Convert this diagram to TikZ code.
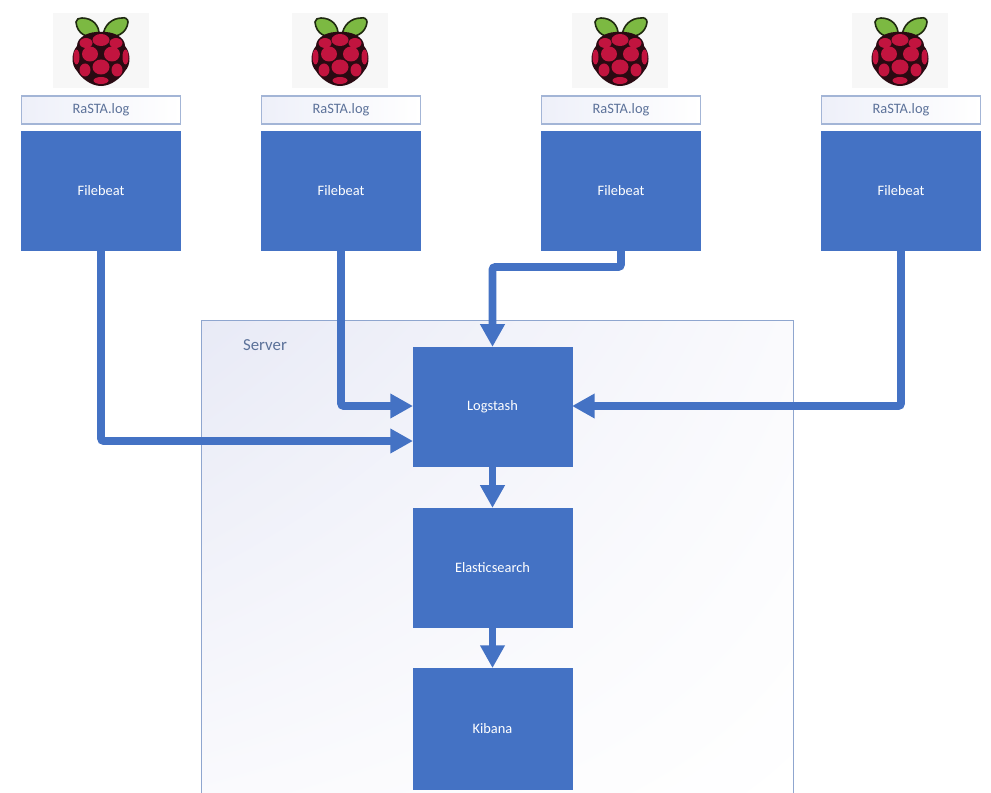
\documentclass[tikz,border=0pt]{standalone}
\usepackage{fontspec}
\setmainfont{Carlito}
\usetikzlibrary{arrows.meta,calc,shadings}
\definecolor{boxblue}{HTML}{4472C4}
\definecolor{edgeblue}{HTML}{A3B5D6}
\definecolor{srvline}{HTML}{8FA6CF}
\definecolor{lav}{HTML}{E8EAF6}
\definecolor{lav2}{HTML}{FAFAFD}
\definecolor{loglav}{HTML}{EEF0F9}
\definecolor{logtxt}{HTML}{5B7199}
\definecolor{berry}{HTML}{C2143F}
\definecolor{berrydk}{HTML}{2A0A12}
\definecolor{leaf}{HTML}{7CB942}
\definecolor{leafdk}{HTML}{1F2A10}
\tikzset{
  x=0.75pt,y=-0.75pt,
  bluebox/.style={fill=boxblue,draw=boxblue,text=white,minimum width=119.5pt,minimum height=89pt,inner sep=0pt,font=\fontsize{10.8}{13}\selectfont,line width=0.4pt},
  logbox/.style={draw=edgeblue,line width=1pt,text=logtxt,minimum width=119.5pt,minimum height=21pt,inner sep=0pt,font=\fontsize{10.8}{13}\selectfont,shade,shading angle=45,left color=loglav,right color=white},
  flow/.style={draw=boxblue,line width=5.8pt,rounded corners=2pt,-{Triangle[length=17pt,width=17.5pt]}},
  bud/.style={fill=berry,draw=none},
}
\newcommand{\rasp}[2]{%
\begin{scope}[shift={(#1,#2)}]
  \fill[white!97!black] (-48,-38) rectangle (48,37);
  % leaves
  \fill[leaf,draw=leafdk,line width=1.2pt] (-2,-15) .. controls (-14,-12) and (-24,-17) .. (-25,-29) .. controls (-25,-32) and (-22,-33) .. (-19,-33) .. controls (-9,-33) and (-1,-26) .. (-2,-15) -- cycle;
  \fill[leaf,draw=leafdk,line width=1.2pt] (2,-15) .. controls (14,-12) and (26,-17) .. (27,-29) .. controls (27,-32) and (24,-34) .. (21,-33) .. controls (11,-33) and (3,-26) .. (2,-15) -- cycle;
  % body
  \fill[berrydk] (0,-19) .. controls (12,-20) and (24,-14) .. (24,-5) .. controls (30,2) and (30,14) .. (24,20) .. controls (20,27) and (10,35) .. (0,35) .. controls (-10,35) and (-20,27) .. (-24,20) .. controls (-30,14) and (-30,2) .. (-24,-5) .. controls (-24,-14) and (-12,-20) .. (0,-19) -- cycle;
  % buds
  \fill[bud] (0,-11) ellipse [x radius=8.5,y radius=6];
  \fill[bud] (-15,-8) ellipse [x radius=6.5,y radius=5];
  \fill[bud] (15,-8) ellipse [x radius=6.5,y radius=5];
  \fill[bud] (-11,3) ellipse [x radius=8,y radius=7.5];
  \fill[bud] (11,3) ellipse [x radius=8,y radius=7.5];
  \fill[bud] (-24.5,6) ellipse [x radius=3,y radius=7.5];
  \fill[bud] (24.5,6) ellipse [x radius=3,y radius=7.5];
  \fill[bud] (0,16) ellipse [x radius=8.5,y radius=7.5];
  \fill[bud] (-16,19) ellipse [x radius=5.5,y radius=6.5];
  \fill[bud] (16,19) ellipse [x radius=5.5,y radius=6.5];
  \fill[bud] (0,29.5) ellipse [x radius=7.5,y radius=3.5];
\end{scope}}
\begin{document}
\begin{tikzpicture}
\useasboundingbox (0,0) rectangle (991,792);
% server
\begin{scope}
\clip (0,0) rectangle (991,792);
\shade[upper left=lav,upper right=lav2,lower left=lav2,lower right=white] (201,320) rectangle (793,800);
\draw[srvline,line width=0.7pt] (201,800) -- (201,320) -- (793,320) -- (793,800);
\end{scope}
\node[text=logtxt,font=\fontsize{12.6}{15}\selectfont] (srv) at (265,345) {Server};
% logos
\rasp{101}{51}\rasp{340}{51}\rasp{620}{51}\rasp{900}{51}
% log boxes
\node[logbox] (l1) at (101,110) {RaSTA.log};
\node[logbox] (l2) at (341,110) {RaSTA.log};
\node[logbox] (l3) at (621,110) {RaSTA.log};
\node[logbox] (l4) at (901,110) {RaSTA.log};
% filebeat
\node[bluebox] (f1) at (101,190.5) {Filebeat};
\node[bluebox] (f2) at (341,190.5) {Filebeat};
\node[bluebox] (f3) at (621,190.5) {Filebeat};
\node[bluebox] (f4) at (901,190.5) {Filebeat};
% server boxes
\node[bluebox] (ls) at (492.5,406.5) {Logstash};
\node[bluebox] (es) at (492.5,567.5) {Elasticsearch};
\node[bluebox,minimum height=91pt] (kb) at (492.5,729) {Kibana};
% connector bends
\coordinate (t1) at (413,441);
\coordinate (t2) at (413,406);
\coordinate (t3) at (492.5,267);
\coordinate (t4) at (572,406);
% connectors
\draw[flow] (f1.south) -- (f1.south |- t1) -- (t1);
\draw[flow] (f2.south) -- (f2.south |- t2) -- (t2);
\draw[flow] (f3.south) -- (f3.south |- t3) -- (t3) -- (ls.north);
\draw[flow] (f4.south) -- (f4.south |- t4) -- (t4);
\draw[flow] (ls.south) -- (es.north);
\draw[flow] (es.south) -- (kb.north);
\end{tikzpicture}
\end{document}
